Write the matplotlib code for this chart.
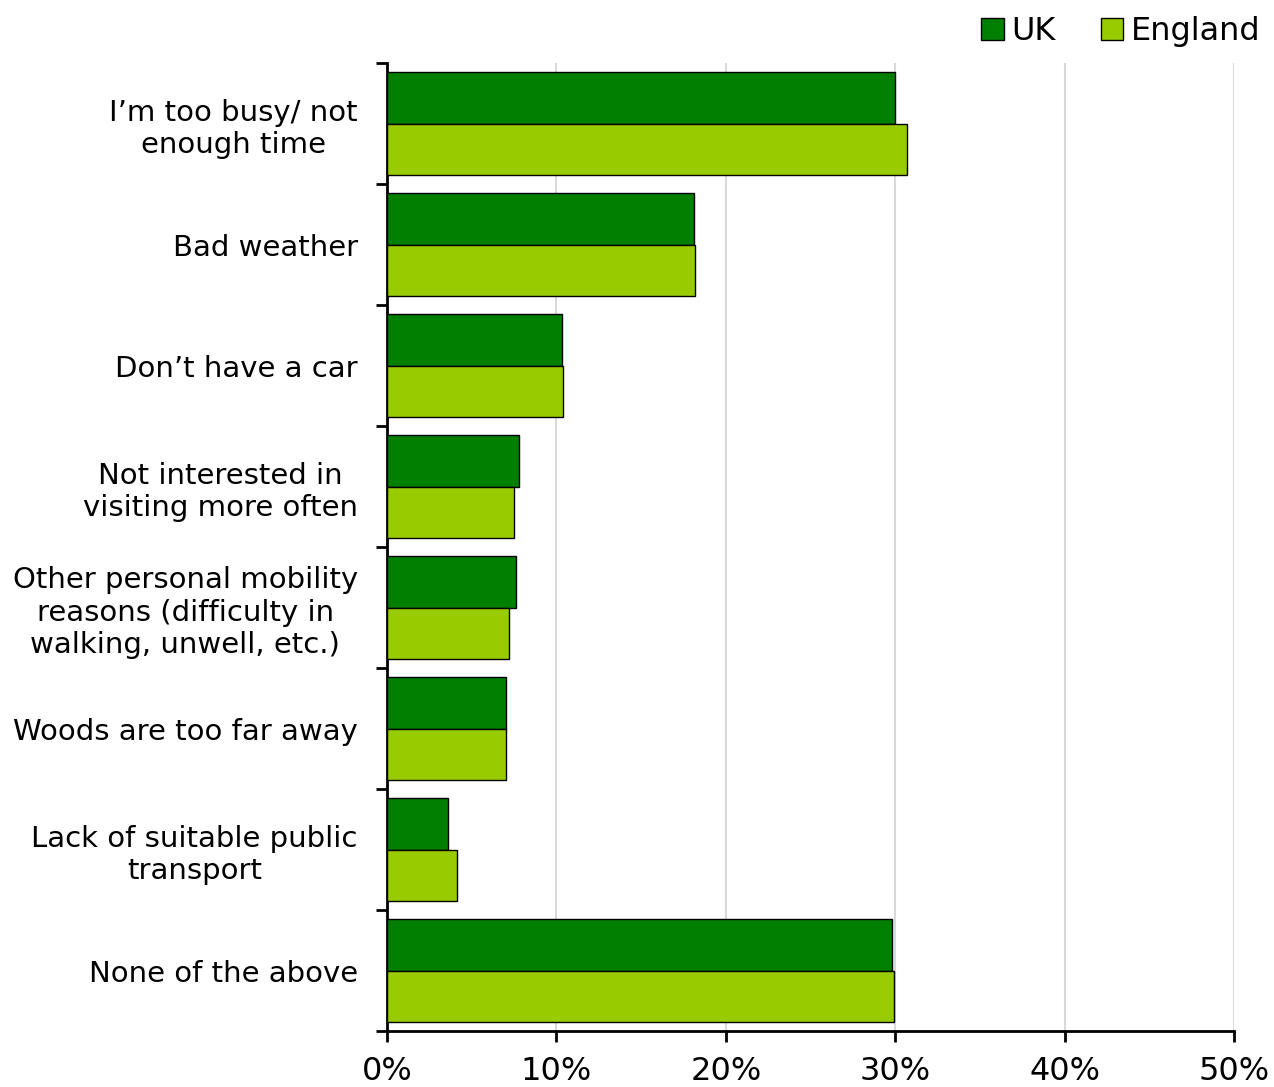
import matplotlib.pyplot as plt
import numpy as np
from matplotlib.ticker import FuncFormatter

# Reasons for not visiting woodland more often (% of respondents)
reasons = ["I\u2019m too busy/ not\nenough time",
           "Bad weather",
           "Don\u2019t have a car",
           "Not interested in\nvisiting more often",
           "Other personal mobility\nreasons (difficulty in\nwalking, unwell, etc.)",
           "Woods are too far away",
           "Lack of suitable public\ntransport",
           "None of the above"]
uk = [30.0, 18.1, 10.3, 7.8, 7.6, 7.0, 3.6, 29.8]
england = [30.7, 18.2, 10.4, 7.5, 7.2, 7.0, 4.1, 29.9]
xticks = [0, 10, 20, 30, 40, 50]

fig = plt.figure(figsize=(12.74, 10.87), dpi=100)
ax = fig.add_axes([0.3038, 0.0515, 0.665, 0.8905])

y = np.arange(len(reasons))
h = 0.425
ax.barh(y - h / 2, uk, height=h, color='#007f00', edgecolor='black', lw=1, label='UK', zorder=3)
ax.barh(y + h / 2, england, height=h, color='#99cc00', edgecolor='black', lw=1, label='England', zorder=3)

ax.set_ylim(len(reasons) - 0.5, -0.5)
ax.set_xlim(0, 50)
ax.set_xticks(xticks)
ax.xaxis.set_major_formatter(FuncFormatter(lambda v, p: f"{v:.0f}%"))
ax.grid(axis='x', color='#d9d9d9', lw=1.5, zorder=0)

# category labels between boundary ticks
ax.set_yticks(np.arange(len(reasons) + 1) - 0.5)
ax.set_yticklabels([])
ax.set_yticks(y, minor=True)
ax.set_yticklabels(reasons, minor=True, fontsize=21, ha='right', linespacing=1.2)
for t in ax.get_yticklabels(minor=True):
    t.set_multialignment('center')
ax.tick_params(axis='y', which='minor', length=0, pad=21)
ax.tick_params(axis='y', which='major', length=8, width=2)
ax.tick_params(axis='x', length=8, width=2, labelsize=23, pad=10)

for s in ['top', 'right']:
    ax.spines[s].set_visible(False)
ax.spines['left'].set_linewidth(2)
ax.spines['bottom'].set_linewidth(2)

ax.legend(loc='lower right', bbox_to_anchor=(1.05, 1.0), ncol=2, frameon=False,
          fontsize=23, handlelength=0.7, handleheight=0.7, handletextpad=0.25,
          columnspacing=1.4, borderaxespad=0.1)

fig.savefig('out.png', dpi=100)
